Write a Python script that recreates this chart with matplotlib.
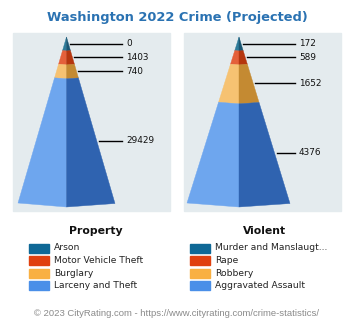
import matplotlib
matplotlib.use("Agg")
import matplotlib.pyplot as plt
from matplotlib.patches import Polygon, Rectangle
import numpy as np

title = "Washington 2022 Crime (Projected)"
property_labels = ["Arson", "Motor Vehicle Theft", "Burglary", "Larceny and Theft"]
property_values = [0, 1403, 740, 29429]
violent_labels = ["Murder and Manslaugt...", "Rape", "Robbery", "Aggravated Assault"]
violent_values = [172, 589, 1652, 4376]
footer = "\u00a9 2023 CityRating.com - https://www.cityrating.com/crime-statistics/"

legend_colors = ["#0f6896", "#e0400f", "#f9b042", "#4a8fe8"]
light_faces = ["#2f7c9a", "#e4603a", "#f6c272", "#6ea6ee"]
dark_faces = ["#1a5673", "#b5360f", "#c48a32", "#2f63b0"]
panel_bg = "#e4ebee"


def layer_fracs(values, min_frac=0.082):
    # each layer gets at least min_frac of the height, the rest is proportional
    vals = np.array(values, dtype=float)
    fixed = np.zeros(len(vals), dtype=bool)
    while True:
        free = ~fixed
        k = (1 - min_frac * fixed.sum()) / vals[free].sum()
        h = np.where(fixed, min_frac, vals * k)
        small = (h < min_frac) & free
        if not small.any():
            return h
        fixed |= small


def draw_pyramid(ax, cx, half_l, half_r, values, panel_x, label_x):
    ax.add_patch(Rectangle((panel_x, 33), 157, 178, color=panel_bg, zorder=0))
    apex = np.array([cx, 37.0])
    left = np.array([cx - half_l, 203.0])
    mid = np.array([cx, 207.0])
    right = np.array([cx + half_r, 203.5])
    fr = layer_fracs(values)
    edges = np.concatenate([[0], np.cumsum(fr)])
    for i, v in enumerate(values):
        t0, t1 = edges[i], edges[i + 1]
        L0, L1 = apex + t0 * (left - apex), apex + t1 * (left - apex)
        M0, M1 = apex + t0 * (mid - apex), apex + t1 * (mid - apex)
        R0, R1 = apex + t0 * (right - apex), apex + t1 * (right - apex)
        ax.add_patch(Polygon([L0, L1, M1, M0], closed=True, facecolor=light_faces[i],
                             edgecolor=light_faces[i], lw=0.3, zorder=2))
        ax.add_patch(Polygon([M0, M1, R1, R0], closed=True, facecolor=dark_faces[i],
                             edgecolor=dark_faces[i], lw=0.3, zorder=2))
        tm = (t0 + t1) / 2
        p = apex + tm * (right - apex)
        ax.plot([p[0] + 2, label_x], [p[1], p[1]], color="black", lw=1, zorder=3)
        ax.text(label_x + 4, p[1], str(v), fontsize=6.4, va="center", ha="left",
                family="DejaVu Sans", color="#111111")


def draw_legend(ax, x, header_x, labels, heading):
    ax.text(header_x, 231, heading, fontsize=7.8, fontweight="bold", ha="center",
            va="center", family="DejaVu Sans", color="#111111")
    for i, lab in enumerate(labels):
        y = 248 + i * 12.6
        ax.add_patch(Rectangle((x, y - 4.5), 20, 9, color=legend_colors[i]))
        ax.text(x + 25, y, lab, fontsize=6.6, va="center", ha="left",
                family="DejaVu Sans", color="#222222")


fig = plt.figure(figsize=(3.55, 3.30), dpi=100)
ax = fig.add_axes([0, 0, 1, 1])
ax.set_xlim(0, 355)
ax.set_ylim(330, 0)
ax.axis("off")

ax.text(177.5, 18, title, fontsize=9.4, fontweight="bold", color="#2a72b2",
        ha="center", va="center", family="DejaVu Sans")

draw_pyramid(ax, 66.5, 48.5, 48.5, property_values, 13, 122)
draw_pyramid(ax, 239, 52, 51, violent_values, 184, 295)

draw_legend(ax, 29, 96, property_labels, "Property")
draw_legend(ax, 190, 265, violent_labels, "Violent")

ax.text(177, 314, footer, fontsize=6.8, color="#8a8a8a", ha="center", va="center",
        family="Liberation Sans")

fig.savefig("out.png", dpi=100)
